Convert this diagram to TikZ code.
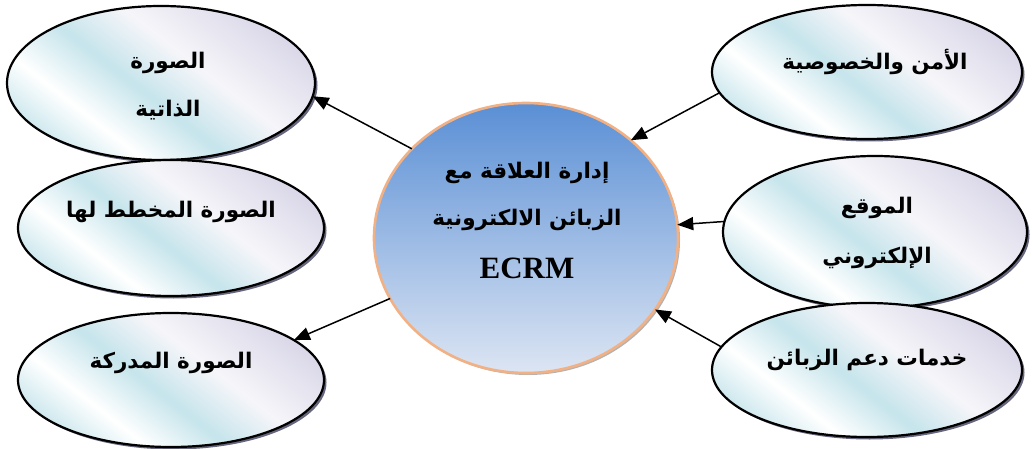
\documentclass[tikz,border=0pt]{standalone}
\usepackage{fontspec}
\setmainfont{Liberation Serif}
\newfontfamily\arabicfont[Script=Arabic]{DejaVu Sans}
\TeXXeTstate=1
\usetikzlibrary{shapes.geometric,shadows,arrows.meta}
\definecolor{cyanA}{HTML}{ADD9E3}
\definecolor{lavA}{HTML}{C4C1DB}
\definecolor{circTop}{HTML}{5A8FD5}
\definecolor{circBot}{HTML}{DCE5F3}
\definecolor{circEdge}{HTML}{F2B184}
\definecolor{shadowC}{HTML}{4A4A66}
\pgfdeclarehorizontalshading{ellshade}{100bp}{color(0bp)=(cyanA!80!white); color(18bp)=(cyanA); color(34bp)=(white); color(46bp)=(cyanA!70!white); color(58bp)=(white!85!lavA); color(76bp)=(lavA!65!white); color(100bp)=(lavA)}
\begin{document}
\begin{tikzpicture}[x=1pt,y=-1pt,
  ell/.style={ellipse, draw=black, line width=2.2pt, shade, shading=ellshade, shading angle=52, inner sep=0pt, outer sep=0pt,
    drop shadow={shadow xshift=2.5pt, shadow yshift=-2.5pt, fill=shadowC, opacity=0.85}},
  hub/.style={ellipse, draw=circEdge, line width=2.6pt, top color=circTop, bottom color=circBot, inner sep=0pt, outer sep=0pt,
    drop shadow={shadow xshift=2pt, shadow yshift=-2pt, fill=gray, opacity=0.6}},
  tx/.style={font=\arabicfont\bfseries\fontsize{21.5}{24}\selectfont, inner sep=0pt},
  en/.style={font=\bfseries\fontsize{31}{34}\selectfont, inner sep=0pt},
  arr/.style={-{Triangle[length=16pt,width=13pt]}, line width=1.5pt}]
\useasboundingbox (0,0) rectangle (1033,449);
% left ellipses
\node[ell, minimum width=308pt, minimum height=154pt] (tl) at (161,83) {};
\node[ell, minimum width=306pt, minimum height=136pt] (ml) at (171,228) {};
\node[ell, minimum width=306pt, minimum height=134pt] (bl) at (171,380) {};
% right ellipses
\node[ell, minimum width=310pt, minimum height=134pt] (tr) at (867,72) {};
\node[ell, minimum width=304pt, minimum height=152pt] (mr) at (875,232) {};
\node[ell, minimum width=310pt, minimum height=134pt] (br) at (867,370) {};
% hub
\node[hub, minimum width=304pt, minimum height=270pt] (c) at (526,238) {};
% texts
\node[tx] (tl1) at (168,63) {\beginR الصورة\endR};
\node[tx] (tl2) at (168,110) {\beginR الذاتية\endR};
\node[tx] (ml1) at (171,212) {\beginR الصورة المخطط لها\endR};
\node[tx] (bl1) at (171,363) {\beginR الصورة المدركة\endR};
\node[tx] (tr1) at (875,62) {\beginR الأمن والخصوصية\endR};
\node[tx] (mr1) at (877,208) {\beginR الموقع\endR};
\node[tx] (mr2) at (877,258) {\beginR الإلكتروني\endR};
\node[tx] (br1) at (867,360) {\beginR خدمات دعم الزبائن\endR};
\node[tx] (c1) at (527,173) {\beginR إدارة العلاقة مع\endR};
\node[tx] (c2) at (527,220) {\beginR الزبائن الالكترونية\endR};
\node[en] (c3) at (527,268) {ECRM};
% connectors
\draw[arr] (c.142.7) -- (tl.-5.3);
\draw[arr] (c.204.7) -- (bl.18);
\draw[arr] (tr.188) -- (c.43.4);
\draw[arr] (mr.176) -- (c.5);
\draw[arr] (br.171.5) -- (c.-29);
\end{tikzpicture}
\end{document}
